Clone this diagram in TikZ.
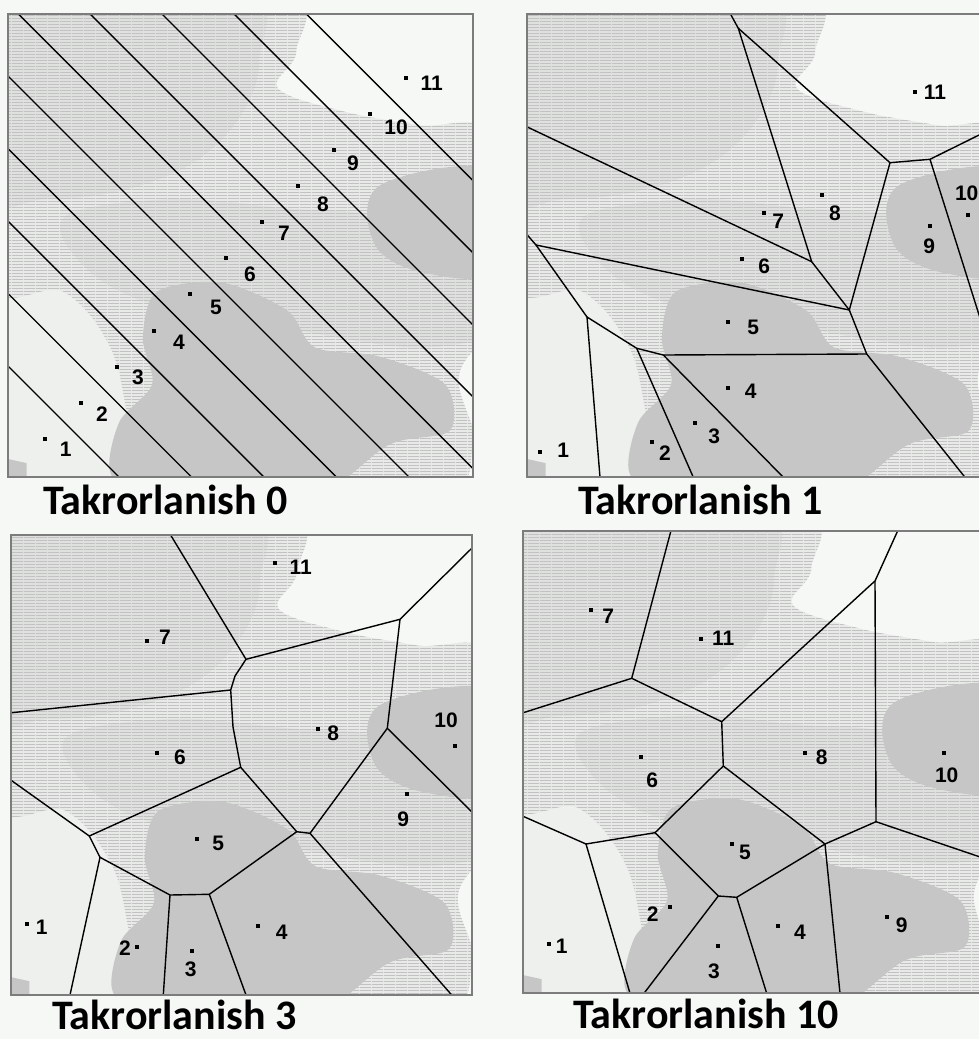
\documentclass[tikz,border=0pt]{standalone}
\usepackage{fontspec}
\newfontfamily\capfont{Carlito}
\newfontfamily\labfont{Liberation Sans}
\usetikzlibrary{patterns}

\definecolor{mapBack}{HTML}{F5F8F5}
\definecolor{mapPale}{HTML}{EEF0EE}
\definecolor{mapLight}{HTML}{E8EAE8}
\definecolor{mapDense}{HTML}{DFE1DF}
\definecolor{mapStreak}{HTML}{C2C2C2}
\definecolor{mapSolid}{HTML}{C6C6C6}
\definecolor{frameGray}{HTML}{7C7C7C}

% horizontal streaks of the density map
\pgfdeclarepatternformonly{mapstreaks}{\pgfpointorigin}{\pgfqpoint{12pt}{3pt}}{\pgfqpoint{12pt}{3pt}}{%
  \pgfpathrectangle{\pgfpointorigin}{\pgfqpoint{12pt}{1.3pt}}\pgfusepath{fill}}

% density map in the unit square (y down), same in every panel
\newcommand{\graymap}{%
  \fill[mapPale] plot[smooth cycle, tension=0.6] coordinates {
    (-0.05,0.5) (0.2,0.62) (0.3,0.8) (0.32,1.05) (-0.05,1.05)};
  \fill[mapLight] plot[smooth cycle, tension=0.6] coordinates {
    (-0.05,-0.05) (0.58,-0.05) (0.62,0.08) (0.58,0.16) (0.72,0.21) (0.88,0.24)
    (1.05,0.27) (1.05,0.63) (0.97,0.78) (1.0,0.93) (0.9,1.05) (0.3,1.05)
    (0.26,0.88) (0.22,0.72) (0.12,0.6) (-0.05,0.56)};
  \fill[mapDense] plot[smooth cycle, tension=0.6] coordinates {
    (-0.05,-0.05) (0.5,-0.05) (0.54,0.1) (0.5,0.22) (0.4,0.32) (0.25,0.38)
    (0.08,0.4) (-0.05,0.38)};
  \fill[mapDense] plot[smooth cycle, tension=0.6] coordinates {
    (0.12,0.44) (0.35,0.4) (0.6,0.42) (0.8,0.44) (1.05,0.55) (1.05,0.68)
    (0.88,0.72) (0.6,0.68) (0.35,0.64) (0.18,0.56)};
  \fill[pattern=mapstreaks, pattern color=mapStreak] plot[smooth cycle, tension=0.6] coordinates {
    (-0.05,-0.05) (0.58,-0.05) (0.62,0.08) (0.58,0.16) (0.72,0.21) (0.88,0.24)
    (1.05,0.27) (1.05,0.63) (0.97,0.78) (1.0,0.93) (0.9,1.05) (0.3,1.05)
    (0.26,0.88) (0.22,0.72) (0.12,0.6) (-0.05,0.56)};
  \fill[mapSolid] plot[smooth cycle, tension=0.6] coordinates {
    (0.8,0.37) (1.05,0.34) (1.05,0.55) (0.9,0.56) (0.79,0.5)};
  \fill[mapSolid] plot[smooth cycle, tension=0.5] coordinates {
    (0.32,0.6) (0.46,0.58) (0.6,0.64) (0.66,0.72) (0.8,0.74) (0.94,0.8)
    (0.95,0.9) (0.82,0.93) (0.64,1.05) (0.3,1.05) (0.22,0.99) (0.24,0.88)
    (0.31,0.8) (0.29,0.7)};
  \fill[mapSolid] (-0.05,0.95) -- (0.04,0.97) -- (0.04,1.05) -- (-0.05,1.05) -- cycle;
}

\begin{document}
\begin{tikzpicture}[x=1pt, y=-1pt,
  cell/.style={black, line width=1.4pt, line join=round},
  frame/.style={draw=frameGray, line width=1.8pt},
  lab/.style={font=\labfont\bfseries\fontsize{21}{21}\selectfont, inner sep=0pt},
  caption/.style={font=\capfont\bfseries\fontsize{42}{42}\selectfont, inner sep=0pt, anchor=base west}]
  \fill[mapBack] (0,0) rectangle (979,1039);
  \useasboundingbox (0,0) rectangle (979,1039);

  % Iteration 0
  \begin{scope}
    \clip (8,14) rectangle (473,477);
    \begin{scope}[shift={(8,14)}, x=465pt, y=-463pt]
      \graymap
    \end{scope}
    \foreach \mx/\my in {63/421, 99.2/384.7, 135.5/348.7, 171.7/312.3, 207.8/275.8,
      244.2/239.8, 280.2/204, 316/168, 352/131.8, 388/95.7}
      \draw[cell] (\mx-500,\my-500) -- (\mx+500,\my+500);
  \end{scope}
  \foreach \x/\y/\lx/\ly/\t in {45/439.3/65.7/449/1, 81/402.7/102/414/2,
    117.3/366.7/138/377/3, 153.7/330.7/179/342/4, 189.7/294/216/307/5,
    226/257.7/250/274/6, 262.3/222/284/233/7, 298/186/323/204/8,
    334/150/353/163/9, 370/113.7/396/127/10, 406/77.7/431.7/83/11} {
    \fill (\x-2,\y-2) rectangle +(4,4);
    \node[lab] (a\t) at (\lx,\ly) {\t};
  }
  \draw[frame] (8,14) rectangle (473,477);
  \node[caption] (cap0) at (43,514) {Takrorlanish 0};

  % Iteration 1
  \begin{scope}
    \clip (527,14) rectangle (992,477);
    \begin{scope}[shift={(527,14)}, x=465pt, y=-463pt]
      \graymap
    \end{scope}
    \draw[cell] (731,15) -- (738.3,28.3) -- (890,162.7) -- (930,159.3) -- (992,128.6);
    \draw[cell] (738.3,28.3) -- (811.7,261.7) -- (849.3,310) -- (866.7,354) -- (965,477.3);
    \draw[cell] (890,162.7) -- (849.3,310);
    \draw[cell] (930,159.3) -- (992,356);
    \draw[cell] (526.7,126.7) -- (811.7,261.7);
    \draw[cell] (526.7,234.3) -- (536,245) -- (849.3,310);
    \draw[cell] (536,245) -- (587,317) -- (600,477.3);
    \draw[cell] (587,317) -- (636.7,348.3) -- (693.3,477.3);
    \draw[cell] (636.7,348.3) -- (663.3,355) -- (866.7,354);
    \draw[cell] (663.3,355) -- (783.3,477.3);
  \end{scope}
  \foreach \x/\y/\lx/\ly/\t in {540/451.7/563.3/450.7/1, 652.3/442.3/665/453.3/2,
    695.3/422.7/714.3/436.7/3, 728/388.3/750.7/391.7/4, 728/321.7/753.3/327.3/5,
    742.3/259.3/764.3/266.7/6, 764/212.7/778.3/221.7/7, 821.7/195/835/213.3/8,
    930/225.7/929.3/246/9, 968.3/215/966.7/193.3/10, 915/91.7/935/92.7/11} {
    \fill (\x-2,\y-2) rectangle +(4,4);
    \node[lab] (b\t) at (\lx,\ly) {\t};
  }
  \draw[frame] (527,14) rectangle (992,477);
  \node[caption] (cap1) at (578,514) {Takrorlanish 1};

  % Iteration 3
  \begin{scope}
    \clip (11,535) rectangle (472,995);
    \begin{scope}[shift={(11,535)}, x=461pt, y=-460pt]
      \graymap
    \end{scope}
    \draw[cell] (170,534) -- (246,659.3) -- (400,619.3) -- (472,548);
    \draw[cell] (246,659.3) -- (235,676) -- (230.7,690) -- (233,727) -- (240.7,767.3)
      -- (296.7,831.7) -- (310,833.3) -- (451.7,995);
    \draw[cell] (11.7,712.7) -- (230.7,690);
    \draw[cell] (400,619.3) -- (387.3,728.3) -- (310,833.3);
    \draw[cell] (387.3,728.3) -- (472,812);
    \draw[cell] (240.7,767.3) -- (89.3,836) -- (11.7,780.7);
    \draw[cell] (89.3,836) -- (100,857.3) -- (70,995);
    \draw[cell] (100,857.3) -- (170,895) -- (209.3,894.3) -- (296.7,831.7);
    \draw[cell] (170,895) -- (163.3,995);
    \draw[cell] (209.3,894.3) -- (246,995);
  \end{scope}
  \foreach \x/\y/\lx/\ly/\t in {27.3/924/41.7/927.3/1, 137.3/947.3/125/948.3/2,
    191.7/951/190.7/969.3/3, 258.3/926/281.7/932.7/4, 197.3/839.3/218.3/843.3/5,
    156.7/752.7/180/757.3/6, 146.7/640.7/165/637.3/7, 318.3/729.3/333.3/733.3/8,
    406.7/794.3/403.3/819.3/9, 455/745.7/446/720.7/10, 275/562.7/300.7/567.3/11} {
    \fill (\x-2,\y-2) rectangle +(4,4);
    \node[lab] (c\t) at (\lx,\ly) {\t};
  }
  \draw[frame] (11,535) rectangle (472,995);
  \node[caption] (cap3) at (52,1029) {Takrorlanish 3};

  % Iteration 10
  \begin{scope}
    \clip (523,531) rectangle (988,993);
    \begin{scope}[shift={(523,531)}, x=465pt, y=-462pt]
      \graymap
    \end{scope}
    \draw[cell] (670.7,531.7) -- (631.7,678.3) -- (523.3,712.7);
    \draw[cell] (631.7,678.3) -- (721.7,721.7) -- (723.3,766) -- (655,832.7) -- (586,844) -- (524,816.7);
    \draw[cell] (721.7,721.7) -- (868,587.3) -- (875,581) -- (897.3,531.7);
    \draw[cell] (875,581) -- (876,821.7) -- (992,861);
    \draw[cell] (723.3,766) -- (825,844) -- (876,821.7);
    \draw[cell] (655,832.7) -- (718.3,896) -- (736.7,897.3) -- (825,844);
    \draw[cell] (586,844) -- (630,993.3);
    \draw[cell] (718.3,896) -- (644,993.3);
    \draw[cell] (736.7,897.3) -- (766.7,993.3);
    \draw[cell] (825,844) -- (840,993.3);
  \end{scope}
  \foreach \x/\y/\lx/\ly/\t in {549.3/944/561.7/946.7/1, 670/907.3/652.7/914/2,
    718.3/946/714/971.7/3, 778.3/926/800/932.7/4, 731.7/844/745/852.7/5,
    641/756.7/652.3/780.7/6, 590.7/610/608.3/616/7, 805.3/752.7/821.7/757.3/8,
    886.7/916.7/901.7/925/9, 944.3/752.7/946.7/775/10, 700.7/639/723.3/638.3/11} {
    \fill (\x-2,\y-2) rectangle +(4,4);
    \node[lab] (d\t) at (\lx,\ly) {\t};
  }
  \draw[frame] (523,531) rectangle (988,993);
  \node[caption] (cap10) at (573,1028) {Takrorlanish 10};
\end{tikzpicture}
\end{document}
